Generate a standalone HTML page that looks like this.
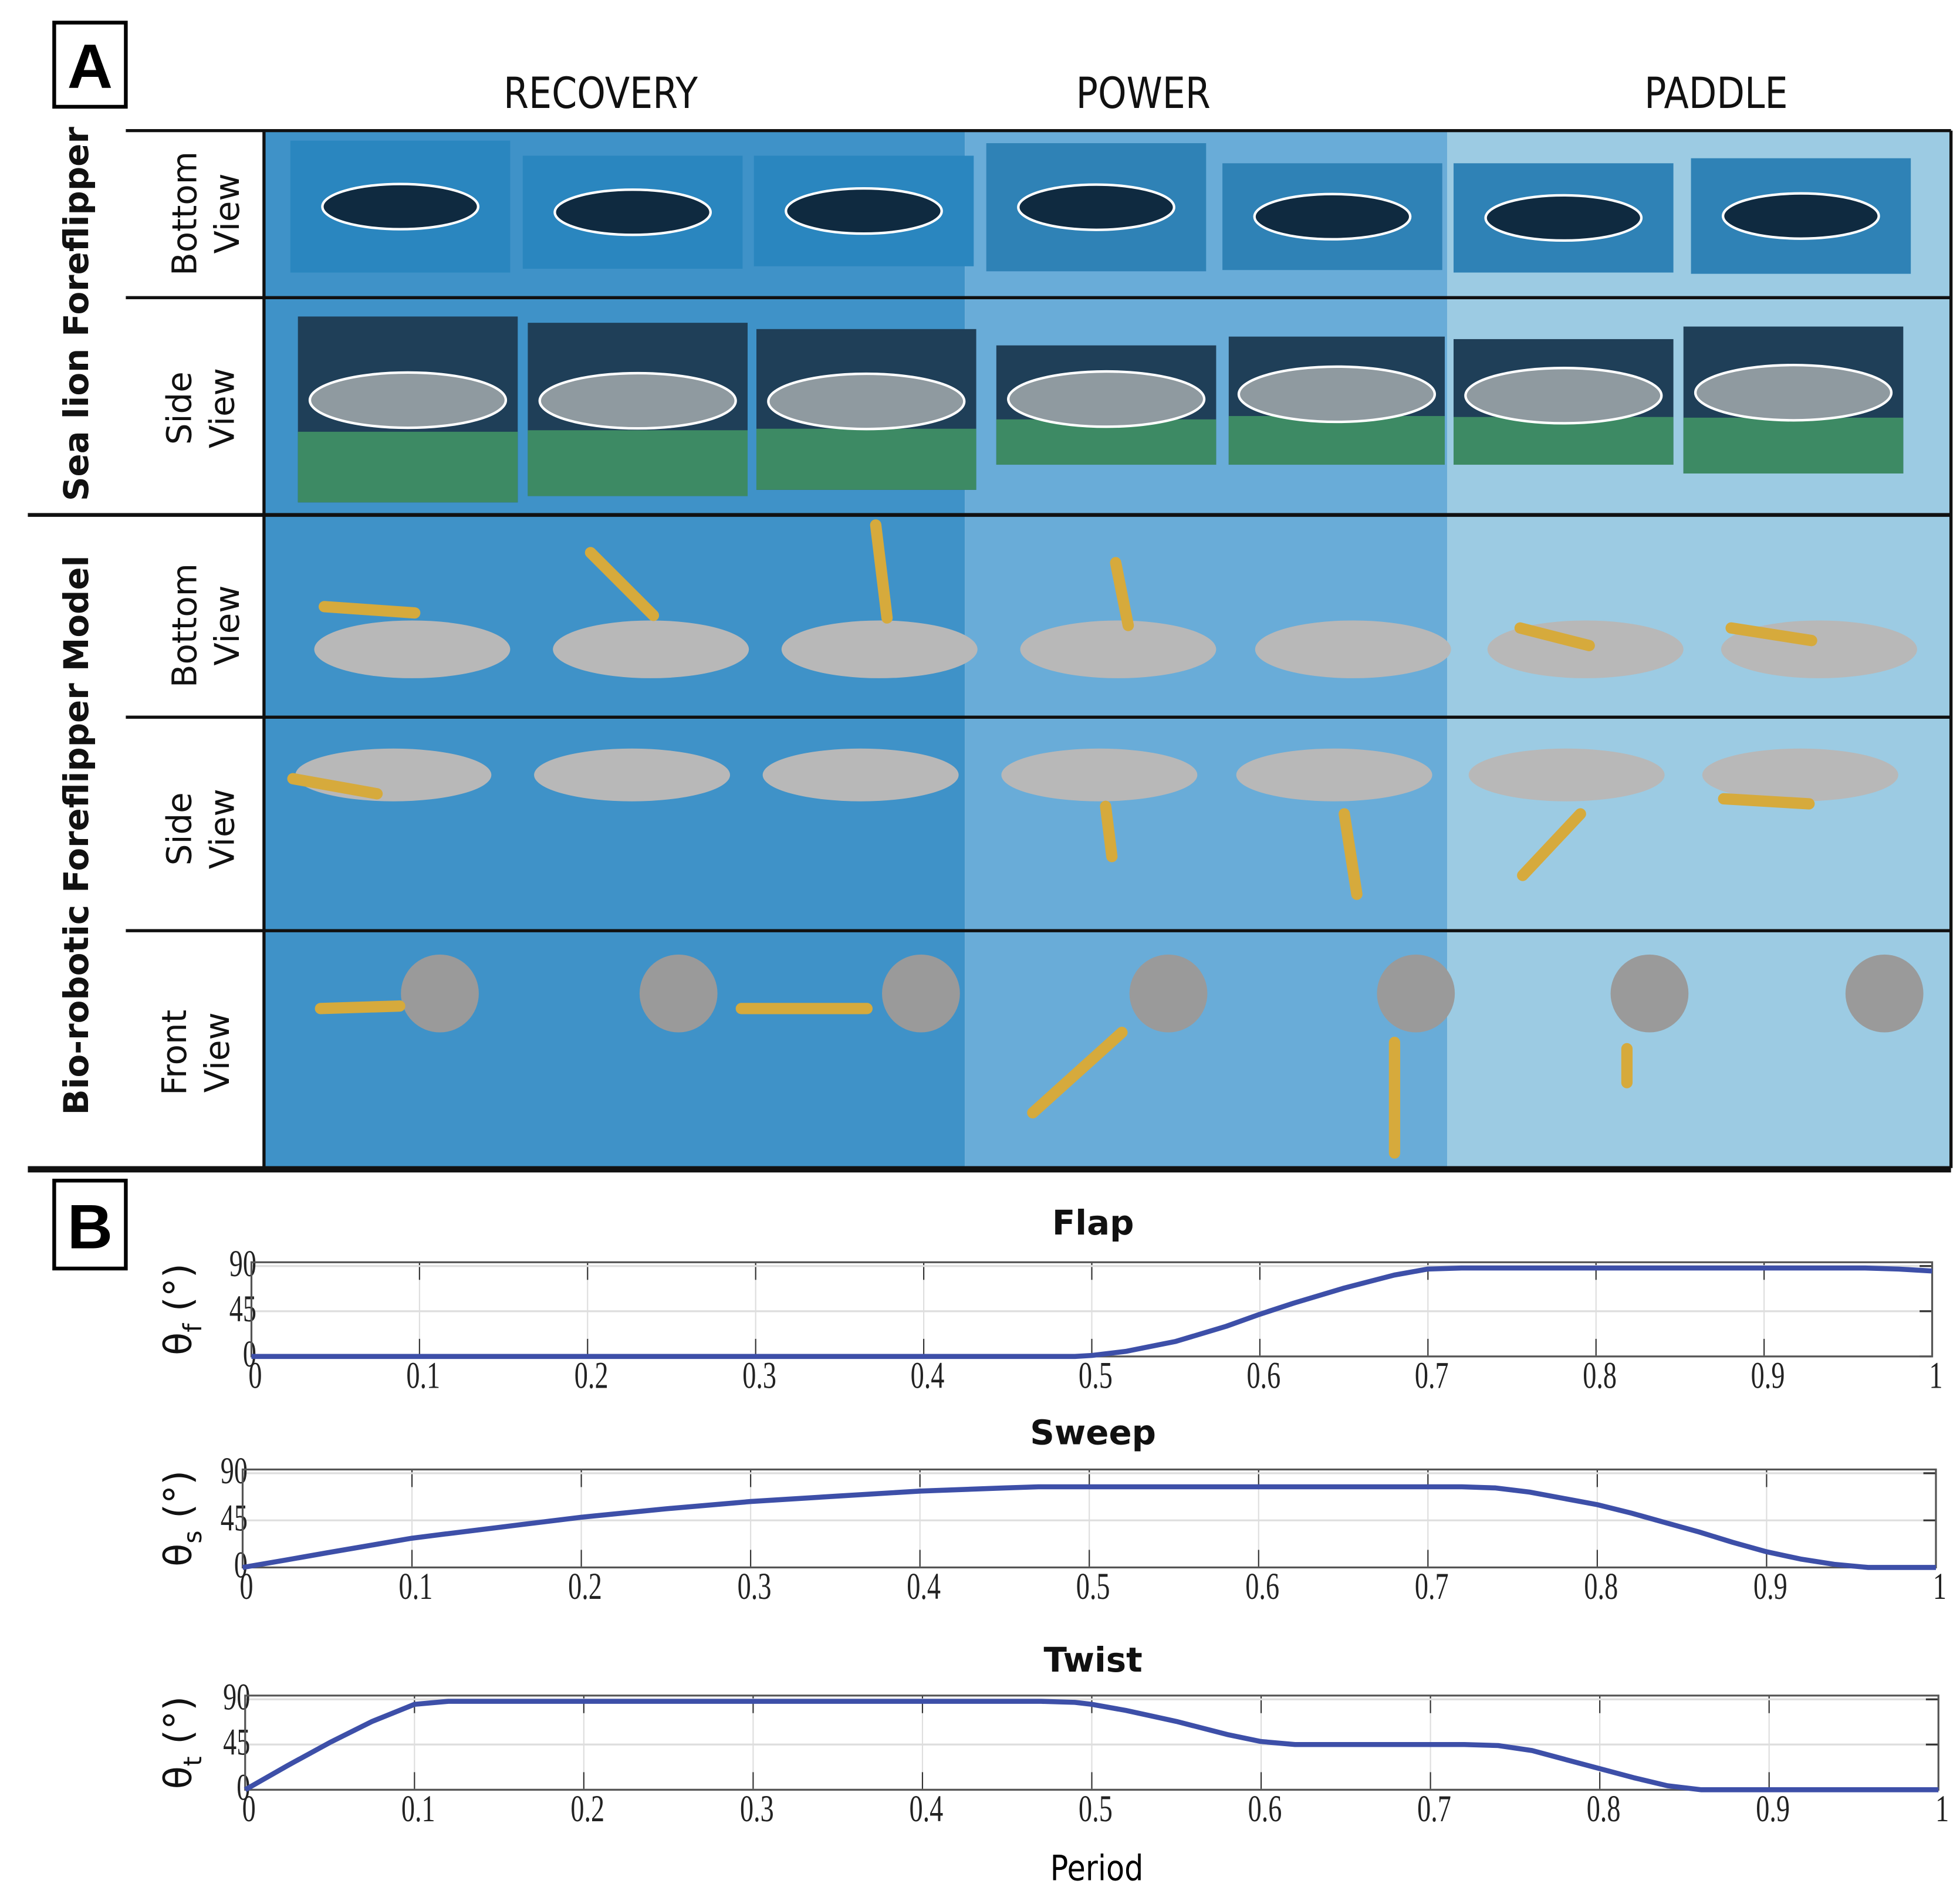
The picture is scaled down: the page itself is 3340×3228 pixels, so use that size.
<!DOCTYPE html>
<html><head><meta charset="utf-8"><style>
html,body{margin:0;padding:0;background:#fff}
svg{display:block}
</style></head><body>
<svg id="fig" xmlns="http://www.w3.org/2000/svg" width="3340" height="3228" viewBox="0 0 1560 1508">
<rect x="0" y="0" width="1560" height="1508" fill="#fff"/>
<g id="panelA">
  <rect x="43" y="18" width="57" height="67" fill="none" stroke="#000" stroke-width="3"/>
  <text x="71.5" y="70" text-anchor="middle" font-family="Liberation Sans, sans-serif" font-weight="bold" font-size="50">A</text>
  <g font-family="DejaVu Sans, sans-serif" font-size="34" text-anchor="middle" fill="#111">
    <text x="478" y="86" transform="translate(478 86) scale(0.85 1) translate(-478 -86)">RECOVERY</text>
    <text x="910" y="86" transform="translate(910 86) scale(0.85 1) translate(-910 -86)">POWER</text>
    <text x="1366" y="86" transform="translate(1366 86) scale(0.85 1) translate(-1366 -86)">PADDLE</text>
  </g>
  <rect x="210" y="104" width="558" height="826" fill="#3f92c8"/>
  <rect x="768" y="104" width="384" height="826" fill="#69acd8"/>
  <rect x="1152" y="104" width="401" height="826" fill="#9ccbe3"/>
  <g id="photos"></g>
  <g id="robots"></g>
  <g stroke="#111" stroke-width="2.5">
    <line x1="100" y1="104" x2="1553" y2="104"/>
    <line x1="100" y1="237" x2="1553" y2="237"/>
    <line x1="22" y1="410" x2="1553" y2="410" stroke-width="3"/>
    <line x1="100" y1="571" x2="1553" y2="571"/>
    <line x1="100" y1="741" x2="1553" y2="741"/>
    <line x1="210" y1="104" x2="210" y2="930"/>
    <line x1="1553" y1="104" x2="1553" y2="930"/>
    <line x1="22" y1="931" x2="1553" y2="931" stroke-width="5"/>
  </g>
  <g font-family="DejaVu Sans, sans-serif" fill="#111">
    <text transform="translate(70 250) rotate(-90)" text-anchor="middle" font-weight="bold" font-size="27">Sea lion Foreflipper</text>
    <text transform="translate(70 665) rotate(-90)" text-anchor="middle" font-weight="bold" font-size="27">Bio-robotic Foreflipper Model</text>
    <g font-size="27" text-anchor="middle">
      <text transform="translate(156 170) rotate(-90)"><tspan x="0" y="0">Bottom</tspan><tspan x="0" y="34">View</tspan></text>
      <text transform="translate(152 325) rotate(-90)"><tspan x="0" y="0">Side</tspan><tspan x="0" y="34">View</tspan></text>
      <text transform="translate(156 498) rotate(-90)"><tspan x="0" y="0">Bottom</tspan><tspan x="0" y="34">View</tspan></text>
      <text transform="translate(152 660) rotate(-90)"><tspan x="0" y="0">Side</tspan><tspan x="0" y="34">View</tspan></text>
      <text transform="translate(148 838) rotate(-90)"><tspan x="0" y="0">Front</tspan><tspan x="0" y="34">View</tspan></text>
    </g>
  </g>
</g>
<g id="panelB">
  <rect x="43" y="940" width="57" height="70" fill="none" stroke="#000" stroke-width="3"/>
  <text x="71.5" y="994" text-anchor="middle" font-family="Liberation Sans, sans-serif" font-weight="bold" font-size="50">B</text>
  <g id="charts"></g>
  <text x="873" y="1497" text-anchor="middle" font-family="DejaVu Sans, sans-serif" font-size="28" transform="translate(873 1497) scale(0.85 1) translate(-873 -1497)">Period</text>
</g>
</svg>
<script>
const NS='http://www.w3.org/2000/svg';
function mk(tag,attrs,parent){const e=document.createElementNS(NS,tag);for(const k in attrs)e.setAttribute(k,attrs[k]);parent.appendChild(e);return e;}

// ---- Panel A illustrative imagery ----
const photoG=document.getElementById('photos');
const row1=[[231,112,175,105],[416,124,175,90],[600,124,175,88],[785,114,175,102],[973,130,175,85],[1157,130,175,87],[1346,126,175,92]];
const row2=[[237,252,175,148],[420,257,175,138],[602,262,175,128],[793,275,175,95],[978,268,172,102],[1157,270,175,100],[1340,260,175,117]];
row1.forEach((r,i)=>{
  const g=mk('g',{},photoG);
  
  
  mk('rect',{x:r[0],y:r[1],width:r[2],height:r[3],fill:i<3?'#2a86bf':'#2f82b6'},g);
  const cx=r[0]+r[2]*0.5,cy=r[1]+r[3]*0.5;
  mk('ellipse',{cx:cx,cy:cy,rx:62,ry:18,fill:'#0f2a40',stroke:'#fff','stroke-width':2},g);
});
row2.forEach((r,i)=>{
  const g=mk('g',{},photoG);
  
  
  mk('rect',{x:r[0],y:r[1],width:r[2],height:r[3],fill:'#1f3f58'},g);
  mk('rect',{x:r[0],y:r[1]+r[3]*0.62,width:r[2],height:r[3]*0.38,fill:'#3d8a64'},g);
  mk('ellipse',{cx:r[0]+r[2]*0.5,cy:r[1]+r[3]*0.45,rx:78,ry:22,fill:'#8f9aa0',stroke:'#fff','stroke-width':2},g);
});
const robG=document.getElementById('robots');
const bx=[328,518,700,890,1077,1262,1448];
bx.forEach(x=>{
  const a=mk('ellipse',{cx:x,cy:517,rx:78,ry:23,fill:'#b8b8b8'},robG);
  
  
  const b=mk('ellipse',{cx:x-15,cy:617,rx:78,ry:21,fill:'#b8b8b8'},robG);
  
  
});
const hx=[350,540,733,930,1127,1313,1500];
hx.forEach(x=>{
  const c=mk('circle',{cx:x,cy:791,r:31,fill:'#9a9a9a'},robG);
  
  
});
const flippers=[[258,483,330,488],[470,440,520,490],[697,418,706,492],[888,448,898,498],[1210,500,1265,514],[1378,500,1442,510],
 [233,620,300,632],[1070,648,1080,712],[880,642,885,682],[1212,697,1258,648],[1372,636,1440,640],[822,886,893,822],[1110,830,1110,918],[1295,835,1295,862],[255,803,318,801],[590,803,690,803]];
flippers.forEach(f=>{
  const l=mk('line',{x1:f[0],y1:f[1],x2:f[2],y2:f[3],stroke:'#d6aa3c','stroke-width':9,'stroke-linecap':'round'},robG);
  
  
});

// ---- Panel B charts ----
const xTicks=[0,0.1,0.2,0.3,0.4,0.5,0.6,0.7,0.8,0.9,1];
const xTickLabels=['0','0.1','0.2','0.3','0.4','0.5','0.6','0.7','0.8','0.9','1'];
const yTicks=[0,45,90];
const yTickLabels=['0','45','90'];
const periodSamples=[0,0.025,0.05,0.075,0.1,0.12,0.15,0.2,0.25,0.3,0.35,0.4,0.45,0.47,0.49,0.5,0.52,0.55,0.58,0.6,0.62,0.65,0.68,0.7,0.72,0.74,0.76,0.78,0.8,0.82,0.84,0.86,0.88,0.9,0.92,0.94,0.96,0.98,1];
const flapValues=[0,0,0,0,0,0,0,0,0,0,0,0,0,0,0,1,5,15,30,42,53,68,81,87,88,88,88,88,88,88,88,88,88,88,88,88,88,87,85];
const sweepValues=[0,7,14,21,28,32,38,48,56,63,68,73,76,77,77,77,77,77,77,77,77,77,77,77,77,76,72,66,60,52,43,34,24,15,8,3,0,0,0];
const twistValues=[0,24,47,68,85,88,88,88,88,88,88,88,88,88,87,85,79,68,55,48,45,45,45,45,45,44,39,30,21,12,4,0,0,0,0,0,0,0,0];
const panels=[
 {name:'flap',title:'Flap',sub:'f',vals:flapValues,x0:200,x1:1538,yTop:1005,y0:1080,titleY:983},
 {name:'sweep',title:'Sweep',sub:'s',vals:sweepValues,x0:193,x1:1541,yTop:1170,y0:1248,titleY:1150},
 {name:'twist',title:'Twist',sub:'t',vals:twistValues,x0:195,x1:1543,yTop:1350,y0:1425,titleY:1331}
];
const chartsG=document.getElementById('charts');
panels.forEach(p=>{
  const g=mk('g',{},chartsG);
  
  
  const y90=p.yTop+3;
  const sx=v=>p.x0+v*(p.x1-p.x0);
  const sy=v=>p.y0-(v/90)*(p.y0-y90);
  mk('rect',{x:p.x0,y:p.yTop,width:p.x1-p.x0,height:p.y0-p.yTop,fill:'#fff'},g);
  xTicks.forEach((t,i)=>{
    const gl=mk('line',{x1:sx(t),x2:sx(t),y1:p.yTop,y2:p.y0,stroke:'#dedede','stroke-width':1},g);
    
    
    mk('line',{x1:sx(t),x2:sx(t),y1:p.y0,y2:p.y0-14,stroke:'#333','stroke-width':1},g);
    mk('line',{x1:sx(t),x2:sx(t),y1:p.yTop,y2:p.yTop+14,stroke:'#333','stroke-width':1},g);
    const tx=sx(t)+3, ty=p.y0+25;
    const tl=mk('text',{x:tx,y:ty,'text-anchor':'middle','font-family':'Liberation Serif, serif','font-size':30,fill:'#222',transform:`translate(${tx} ${ty}) scale(0.72 1) translate(${-tx} ${-ty})`},g);
    tl.textContent=xTickLabels[i];
    
    
  });
  yTicks.forEach((t,i)=>{
    const gl=mk('line',{x1:p.x0,x2:p.x1,y1:sy(t),y2:sy(t),stroke:'#dedede','stroke-width':1.5},g);
    
    
    mk('line',{x1:p.x1,x2:p.x1-10,y1:sy(t),y2:sy(t),stroke:'#333','stroke-width':1.5},g);
    const tx=p.x0+4, ty=sy(t)+8;
    const tl=mk('text',{x:tx,y:ty,'text-anchor':'end','font-family':'Liberation Serif, serif','font-size':30,fill:'#222',transform:`translate(${tx} ${ty}) scale(0.72 1) translate(${-tx} ${-ty})`},g);
    tl.textContent=yTickLabels[i];
    
    
  });
  mk('rect',{x:p.x0,y:p.yTop,width:p.x1-p.x0,height:p.y0-p.yTop,fill:'none',stroke:'#555','stroke-width':1.5},g);
  const pts=p.vals.map((v,i)=>`${sx(periodSamples[i]).toFixed(1)},${sy(v).toFixed(1)}`).join(' ');
  const line=mk('polyline',{points:pts,fill:'none',stroke:'#3d4fa8','stroke-width':4,'stroke-linejoin':'round'},g);
  
  
  const title=mk('text',{x:870,y:p.titleY,'text-anchor':'middle','font-family':'DejaVu Sans, sans-serif','font-weight':'bold','font-size':27,fill:'#111'},g);
  title.textContent=p.title;
  
  
  const yc=(p.yTop+p.y0)/2;
  const yl=mk('text',{transform:`translate(152 ${yc}) rotate(-90)`,'text-anchor':'middle','font-family':'DejaVu Sans, sans-serif','font-size':30,fill:'#111'},g);
  yl.innerHTML=`θ<tspan font-size="20" dy="8">${p.sub}</tspan><tspan dy="-8"> (°)</tspan>`;
  
  
});
</script>
</body></html>
